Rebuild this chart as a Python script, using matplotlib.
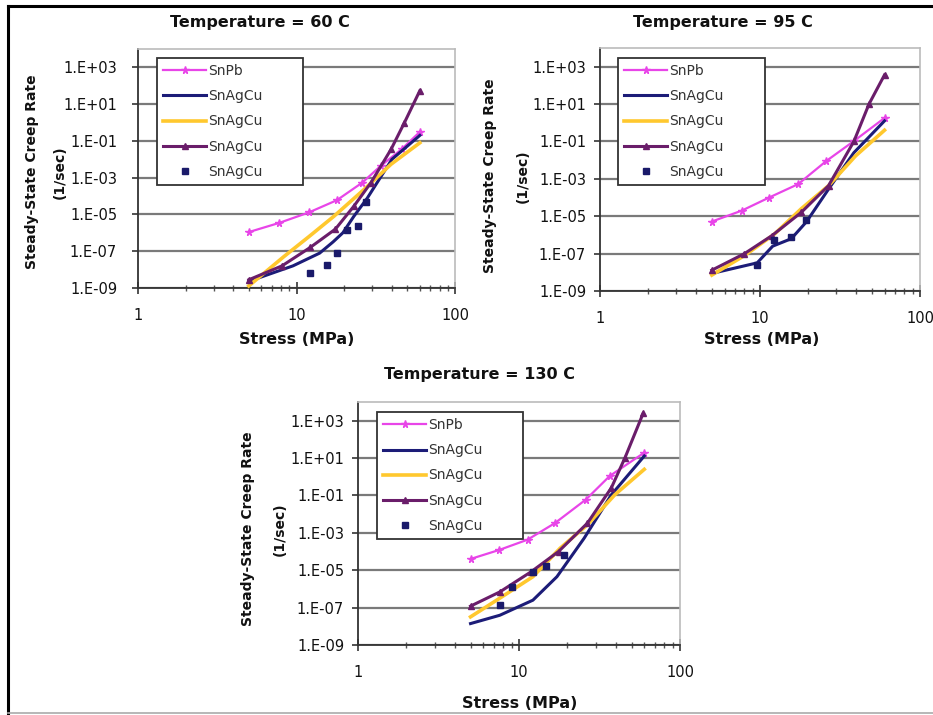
import math
import matplotlib
matplotlib.use("Agg")
import matplotlib.pyplot as plt
from matplotlib.ticker import FixedLocator, FuncFormatter, LogLocator, NullLocator, NullFormatter
from matplotlib.lines import Line2D

# ---------------------------------------------------------------- data
titles = ["Temperature = 60 C", "Temperature = 95 C", "Temperature = 130 C"]
series_labels = ["SnPb", "SnAgCu", "SnAgCu", "SnAgCu", "SnAgCu"]
x_label = "Stress (MPa)"
y_label_1 = "Steady-State Creep Rate"
y_label_2 = "(1/sec)"
x_tick_values = [1, 10, 100]
y_tick_values = [1e-9, 1e-7, 1e-5, 1e-3, 1e-1, 1e1, 1e3]

# 60 C
snpb_60_x = [5, 7.8, 12, 18, 26, 34, 46, 60]
snpb_60_y = [1.1e-6, 3.5e-6, 1.3e-5, 6.0e-5, 5.4e-4, 4.4e-3, 3.5e-2, 0.31]
sac1_60_x = [5, 9.5, 14, 17, 19.6, 23, 28, 40, 60]
sac1_60_y = [2.3e-9, 1.6e-8, 7.9e-8, 3.2e-7, 1.0e-6, 7.9e-6, 7.9e-5, 1.0e-2, 0.2]
sac2_60_x = [5, 8.3, 12, 17.2, 26.7, 39.5, 60]
sac2_60_y = [1.3e-9, 5.0e-8, 6.3e-7, 7.9e-6, 2.3e-4, 5.4e-3, 7.9e-2]
sac3_60_x = [5, 8.1, 12.2, 17.6, 23, 29.5, 39.5, 48, 60]
sac3_60_y = [2.8e-9, 1.6e-8, 1.6e-7, 1.6e-6, 2.8e-5, 5.4e-4, 3.5e-2, 1.0, 54]
sac4_60_x = [12.1, 15.6, 18.1, 20.9, 24.5, 27.3]
sac4_60_y = [6.8e-9, 1.8e-8, 7.9e-8, 1.4e-6, 2.4e-6, 5.0e-5]

# 95 C
snpb_95_x = [5, 7.7, 11.4, 17.3, 26, 38.6, 60]
snpb_95_y = [5.2e-6, 2.0e-5, 1.0e-4, 5.2e-4, 9.1e-3, 0.105, 1.8]
sac1_95_x = [5, 9.6, 12, 15.7, 19.5, 26.8, 38.6, 60]
sac1_95_y = [8.7e-9, 3.2e-8, 2.5e-7, 6.3e-7, 5.0e-6, 2.8e-4, 2.5e-2, 1.26]
sac2_95_x = [5, 8, 12.3, 18.1, 26.8, 39.6, 60]
sac2_95_y = [7.1e-9, 7.9e-8, 1.1e-6, 2.5e-5, 4.3e-4, 1.7e-2, 0.4]
sac3_95_x = [5, 8, 11.9, 18.1, 26.8, 38.6, 48, 60]
sac3_95_y = [1.3e-8, 1.0e-7, 9.3e-7, 1.6e-5, 4.3e-4, 0.1, 10, 363]
sac4_95_x = [9.6, 12.3, 15.7, 19.5]
sac4_95_y = [2.6e-8, 5.5e-7, 8.1e-7, 6.5e-6]

# 130 C
snpb_130_x = [5, 7.5, 11.3, 16.7, 26, 36.6, 60]
snpb_130_y = [4.0e-5, 1.2e-4, 4.3e-4, 3.3e-3, 6.0e-2, 1.1, 19.5]
sac1_130_x = [5, 7.6, 12.2, 17.2, 25.4, 37.5, 60]
sac1_130_y = [1.4e-8, 3.9e-8, 2.5e-7, 4.5e-6, 5.2e-4, 0.11, 12.9]
sac2_130_x = [5, 7.6, 12.2, 18, 26.6, 39.4, 60]
sac2_130_y = [3.2e-8, 3.2e-7, 4.5e-6, 1.5e-4, 2.7e-3, 0.11, 2.5]
sac3_130_x = [5, 7.6, 11.9, 17.6, 26.6, 37.5, 45.6, 59]
sac3_130_y = [1.2e-7, 6.9e-7, 8.3e-6, 1.0e-4, 3.3e-3, 0.26, 10.7, 2450]
sac4_130_x = [7.6, 9.1, 12.2, 14.8, 18.9]
sac4_130_y = [1.3e-7, 1.3e-6, 7.9e-6, 1.6e-5, 6.3e-5]

panels_data = [
    [(snpb_60_x, snpb_60_y), (sac1_60_x, sac1_60_y), (sac2_60_x, sac2_60_y),
     (sac3_60_x, sac3_60_y), (sac4_60_x, sac4_60_y)],
    [(snpb_95_x, snpb_95_y), (sac1_95_x, sac1_95_y), (sac2_95_x, sac2_95_y),
     (sac3_95_x, sac3_95_y), (sac4_95_x, sac4_95_y)],
    [(snpb_130_x, snpb_130_y), (sac1_130_x, sac1_130_y), (sac2_130_x, sac2_130_y),
     (sac3_130_x, sac3_130_y), (sac4_130_x, sac4_130_y)],
]

# ---------------------------------------------------------------- styles
series_styles = [
    dict(color="#E845E8", lw=1.6, marker="*", ms=5.5, mec="#E845E8", mfc="#E845E8"),
    dict(color="#1C1C78", lw=2.2, marker=None),
    dict(color="#FFC82E", lw=2.6, marker=None),
    dict(color="#6A1D6A", lw=2.2, marker="^", ms=4, mec="#6A1D6A", mfc="#6A1D6A"),
    dict(color="#1A1A6A", lw=0, ls="none", marker="s", ms=5, mec="#1A1A6A", mfc="#1A1A6A"),
]

W, H = 933, 715
fig = plt.figure(figsize=(W / 100, H / 100), dpi=100)
fig.patch.set_facecolor("white")


def fig_rect(left, top, right, bottom):
    return [left / W, 1 - bottom / H, (right - left) / W, (bottom - top) / H]


# layout of each chart in pixels
layouts = [
    dict(ax=(138, 49, 455, 288), title=(260, 22), xlab=(297, 340),
         ylab1=(32, 172), ylab2=(60, 172), legend=(157, 58, 303, 185), ypad=11),
    dict(ax=(600, 48, 920, 291), title=(723, 22), xlab=(762, 340),
         ylab1=(490, 176), ylab2=(523, 176), legend=(618, 58, 765, 185), ypad=6),
    dict(ax=(358, 402, 680, 645), title=(480, 375), xlab=(520, 703),
         ylab1=(248, 529), ylab2=(280, 529), legend=(377, 412, 523, 540), ypad=6),
]


def exp_label(v, pos):
    e = int(round(math.log10(v)))
    return "1.E{:+03d}".format(e)


for lay, data, title in zip(layouts, panels_data, titles):
    ax = fig.add_axes(fig_rect(*lay["ax"]))
    ax.set_xscale("log")
    ax.set_yscale("log")
    ax.set_xlim(1, 100)
    ax.set_ylim(1e-9, 1e4)

    handles = []
    for (xs, ys), st, lab in zip(data, series_styles, series_labels):
        st = dict(st)
        ls = st.pop("ls", "-")
        h, = ax.plot(xs, ys, linestyle=ls, label=lab, clip_on=False, zorder=3, **st)
        handles.append(h)

    ax.yaxis.set_major_locator(FixedLocator(y_tick_values))
    ax.yaxis.set_major_formatter(FuncFormatter(exp_label))
    ax.yaxis.set_minor_locator(NullLocator())
    ax.xaxis.set_major_locator(FixedLocator(x_tick_values))
    ax.xaxis.set_major_formatter(FuncFormatter(lambda v, p: "{:g}".format(v)))
    ax.xaxis.set_minor_locator(LogLocator(base=10, subs=range(2, 10)))
    ax.xaxis.set_minor_formatter(NullFormatter())

    ax.grid(axis="y", which="major", color="#7A7A7A", lw=1.6, zorder=1)
    ax.set_axisbelow(True)

    ax.tick_params(axis="y", which="major", direction="out", length=4, width=1.2,
                   color="#333333", labelsize=10.5, pad=lay["ypad"], labelcolor="#111111")
    ax.tick_params(axis="x", which="major", direction="inout", length=9, width=1.2,
                   color="#333333", labelsize=10.5, pad=10, labelcolor="#111111")
    ax.tick_params(axis="x", which="minor", direction="inout", length=4, width=1.0,
                   color="#555555")

    for side in ("left", "bottom"):
        ax.spines[side].set_color("#333333")
        ax.spines[side].set_linewidth(1.3)
    for side in ("top", "right"):
        ax.spines[side].set_color("#BBBBBB")
        ax.spines[side].set_linewidth(1.2)

    fig.text(lay["title"][0] / W, 1 - lay["title"][1] / H, title,
             ha="center", va="center", fontsize=11.5, fontweight="bold", color="#111111")
    fig.text(lay["xlab"][0] / W, 1 - lay["xlab"][1] / H, x_label,
             ha="center", va="center", fontsize=11.5, fontweight="bold", color="#111111")
    fig.text(lay["ylab1"][0] / W, 1 - lay["ylab1"][1] / H, y_label_1, rotation=90,
             ha="center", va="center", fontsize=10, fontweight="bold", color="#111111")
    fig.text(lay["ylab2"][0] / W, 1 - lay["ylab2"][1] / H, y_label_2, rotation=90,
             ha="center", va="center", fontsize=10, fontweight="bold", color="#111111")

    l, t, r, b = lay["legend"]
    leg = ax.legend(handles=handles, loc="upper left",
                    bbox_to_anchor=(l / W, 1 - t / H, (r - l) / W, 0),
                    bbox_transform=fig.transFigure, mode="expand", borderaxespad=0,
                    fontsize=10, numpoints=1, handlelength=3.1, handletextpad=0.15,
                    borderpad=0.45, labelspacing=0.8, fancybox=False, framealpha=1,
                    edgecolor="#333333")
    leg.get_frame().set_linewidth(1.3)
    for txt in leg.get_texts():
        txt.set_color("#333333")
    leg.set_zorder(5)

# outer frame of the figure
fig.add_artist(Line2D([8 / W, 1], [1 - 6 / H, 1 - 6 / H], color="black", lw=2.2,
                      transform=fig.transFigure))
fig.add_artist(Line2D([8 / W, 8 / W], [1 - 6 / H, 0], color="black", lw=2.2,
                      transform=fig.transFigure))
fig.add_artist(Line2D([8 / W, 1], [1 - 713 / H, 1 - 713 / H], color="#AAAAAA", lw=1.2,
                      transform=fig.transFigure))

fig.savefig("out.png", dpi=100, facecolor="white")
